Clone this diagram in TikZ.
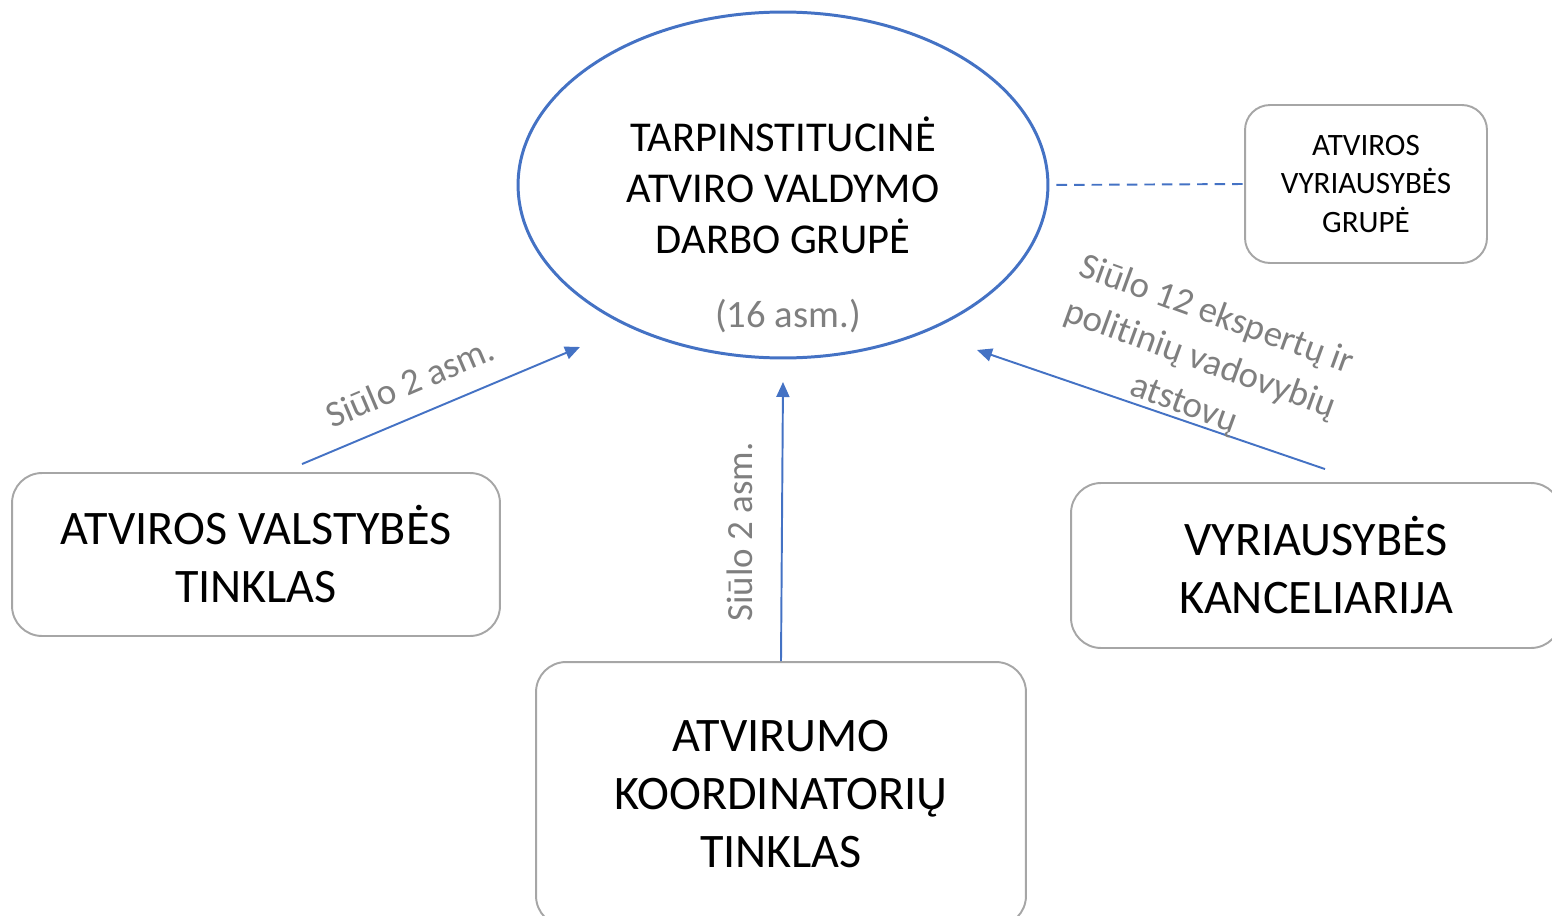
\documentclass[tikz,border=0pt]{standalone}
\usepackage{fontspec}
\setmainfont{Carlito}[Ligatures=NoCommon]
\usetikzlibrary{arrows.meta,shapes.geometric}
\definecolor{linkblue}{HTML}{4472C4}
\definecolor{boxgray}{HTML}{A6A6A6}
\definecolor{notegray}{HTML}{7F7F7F}

\begin{document}
\begin{tikzpicture}[x=0.02cm,y=-0.02cm,
  box/.style={draw=boxgray,line width=1.1pt,rounded corners=0.6cm,align=center,
    font=\fontsize{27.4}{33}\selectfont},
  link/.style={draw=linkblue,line width=1.1pt,-{Triangle[length=0.3cm,width=0.26cm]}},
  note/.style={text=notegray,align=center,font=\fontsize{21}{27}\selectfont}]
\useasboundingbox (0,0) rectangle (1552,916);
\clip (0,0) rectangle (1552,916);
\node[ellipse,draw=linkblue,line width=1.7pt,minimum width=10.6cm,minimum height=6.92cm,
  inner sep=0pt,align=center,font=\fontsize{24.2}{29}\selectfont] (grp) at (783,185)
  {TARPINSTITUCINĖ\\ATVIRO VALDYMO\\DARBO GRUPĖ};
\node[text=notegray,font=\fontsize{22}{29}\selectfont] (cnt) at (788,316) {(16 asm.)};
\node[box,rounded corners=0.5cm,minimum width=4.84cm,minimum height=3.16cm,
  font=\fontsize{17.7}{22}\selectfont] (ovg) at (1366,184) {ATVIROS\\VYRIAUSYBĖS\\GRUPĖ};
\node[box,minimum width=9.76cm,minimum height=3.26cm] (avt) at (256,554.5) {ATVIROS VALSTYBĖS\\TINKLAS};
\node[box,minimum width=9.8cm,minimum height=5.28cm] (akt) at (781,794) {ATVIRUMO\\KOORDINATORIŲ\\TINKLAS};
\node[box,minimum width=9.8cm,minimum height=3.3cm] (vk) at (1316,565.5) {VYRIAUSYBĖS\\KANCELIARIJA};
\coordinate (avtTip) at (580,347);
\coordinate (aktTip) at (783,382);
\coordinate (vkTip) at (977,350);
\draw[link] ([xshift=0.92cm,yshift=0.16cm]avt.north) -- (avtTip);
\draw[link] (akt.north) -- (aktTip);
\draw[link] ([xshift=0.18cm,yshift=0.26cm]vk.north) -- (vkTip);
\draw[linkblue,line width=1.1pt,dash pattern=on 6pt off 4pt,shorten <=4pt] (grp.east) -- (ovg.west);
\node[note,rotate=23] (l1) at (410,382) {Siūlo 2 asm.};
\node[note,rotate=90] (l2) at (740,532) {Siūlo 2 asm.};
\node[note,rotate=-20] (l3) at (1200,360) {Siūlo 12 ekspertų ir\\politinių vadovybių\\atstovų};
\end{tikzpicture}
\end{document}
